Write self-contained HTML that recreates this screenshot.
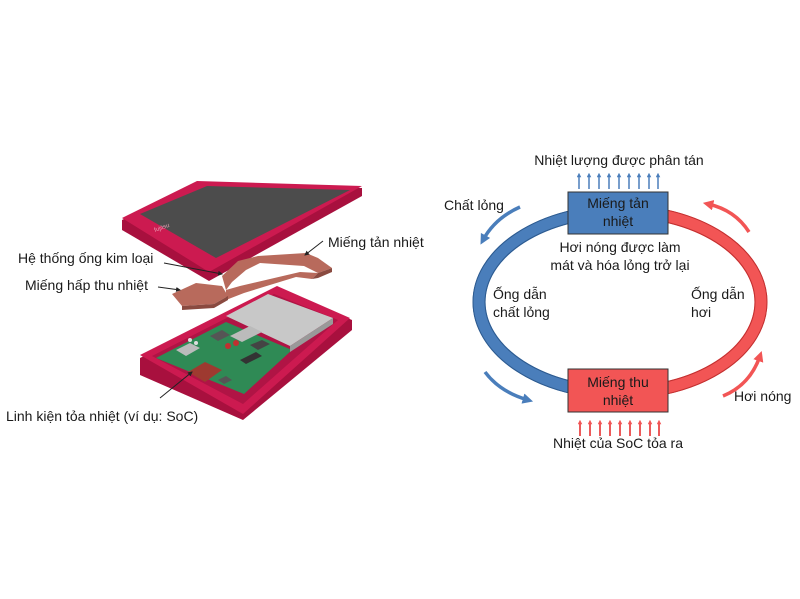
<!DOCTYPE html>
<html><head><meta charset="utf-8"><style>
html,body{margin:0;padding:0;background:#fff;}
svg{display:block;}
text{font-family:"Liberation Sans",sans-serif;font-size:14px;fill:#1a1a1a;}
</style></head><body>
<svg width="800" height="599" viewBox="0 0 800 599" xmlns="http://www.w3.org/2000/svg">
<defs>
<marker id="ab" viewBox="0 0 10 10" refX="5" refY="5" markerWidth="3" markerHeight="3" orient="auto"><path d="M0,0 L10,5 L0,10 z" fill="#4a7ebb"/></marker>
<marker id="ar" viewBox="0 0 10 10" refX="5" refY="5" markerWidth="3" markerHeight="3" orient="auto"><path d="M0,0 L10,5 L0,10 z" fill="#f25555"/></marker>
<marker id="ak" viewBox="0 0 10 10" refX="8" refY="5" markerWidth="5" markerHeight="5" orient="auto"><path d="M0,0 L10,5 L0,10 z" fill="#222"/></marker>
</defs>

<polygon points="122,220 197,183 362,188 362,196 209,281 122,230" fill="#a8103e"/>
<polygon points="122,218 197,181 362,186 209,272" fill="#cc1a50"/>
<polygon points="140,214 207,186 350,190 216,258" fill="#4c4c4c"/>
<text x="155" y="232" style="font-size:6px;fill:#e9a0b5" transform="rotate(-20 155 232)">fujitsu</text>
<polygon points="140,358 277,288 352,320 352,330 243,420 140,375" fill="#a8103e"/>
<polygon points="140,355 277,286 350,318 243,414" fill="#cc1a50"/>
<polygon points="152,356 274,294 338,320 243,404" fill="#b01445"/>
<polygon points="156,358 226,322 292,350 244,394" fill="#2f8a55"/>
<polygon points="226,316 268,294 333,318 290,346" fill="#c8c8c8"/>
<polygon points="290,346 333,318 333,324 290,352" fill="#999"/>
<polygon points="188,372 205,362 222,370 205,382" fill="#9e3a30"/>
<polygon points="176,350 190,343 200,348 186,356" fill="#bbb"/>
<polygon points="210,336 222,330 230,335 218,341" fill="#555"/>
<polygon points="230,336 250,326 262,332 242,342" fill="#bbb"/>
<polygon points="250,345 262,340 270,344 258,350" fill="#444"/>
<polygon points="240,360 256,352 262,356 246,364" fill="#333"/>
<polygon points="218,380 226,376 232,380 224,384" fill="#555"/>
<circle cx="228" cy="346" r="3" fill="#c03030"/>
<circle cx="236" cy="343" r="3" fill="#c03030"/>
<circle cx="190" cy="340" r="2" fill="#ddd"/><circle cx="196" cy="343" r="2" fill="#ddd"/>
<polygon points="222,276 238,261 258,256 306,253 318,258 332,268 318,273 304,266 260,263 246,270 232,282 226,290" fill="#b86a5c"/>
<polygon points="226,290 240,286 300,272 318,273 312,279 296,277 244,293 226,300" fill="#b86a5c"/>
<polygon points="172,294 196,283 222,286 228,296 214,304 182,306" fill="#b86a5c"/>
<polygon points="182,306 214,304 228,296 228,300 214,308 182,310" fill="#8a4a40"/>
<polygon points="312,279 318,273 332,268 332,272 318,278" fill="#8a4a40"/>
<line x1="323" y1="241" x2="305" y2="255" stroke="#222" stroke-width="1" marker-end="url(#ak)"/>
<line x1="164" y1="263" x2="222" y2="274" stroke="#222" stroke-width="1" marker-end="url(#ak)"/>
<line x1="158" y1="287" x2="180" y2="290" stroke="#222" stroke-width="1" marker-end="url(#ak)"/>
<line x1="160" y1="398" x2="192" y2="372" stroke="#222" stroke-width="1" marker-end="url(#ak)"/>
<text x="328" y="247">Miếng tản nhiệt</text>
<text x="18" y="263">Hệ thống ống kim loại</text>
<text x="25" y="290">Miếng hấp thu nhiệt</text>
<text x="6" y="421">Linh kiện tỏa nhiệt (ví dụ: SoC)</text>

<path d="M620,211 A141,91 0 0 0 620,393" fill="none" stroke="#4a7ebb" stroke-width="13"/>
<path d="M620,211 A141,91 0 0 1 620,393" fill="none" stroke="#f25555" stroke-width="13"/>
<path d="M620,205 A147,97 0 0 0 620,399" fill="none" stroke="#2d5a8e" stroke-width="1"/>
<path d="M620,217 A135,85 0 0 0 620,387" fill="none" stroke="#2d5a8e" stroke-width="1"/>
<path d="M620,205 A147,97 0 0 1 620,399" fill="none" stroke="#c03030" stroke-width="1"/>
<path d="M620,217 A135,85 0 0 1 620,387" fill="none" stroke="#c03030" stroke-width="1"/>
<rect x="568" y="192" width="100" height="42" fill="#4a7ebb" stroke="#333" stroke-width="1"/>
<rect x="568" y="369" width="100" height="43" fill="#f25555" stroke="#333" stroke-width="1"/>
<text x="618" y="208" text-anchor="middle">Miếng tản</text>
<text x="618" y="226" text-anchor="middle">nhiệt</text>
<text x="618" y="387" text-anchor="middle">Miếng thu</text>
<text x="618" y="405" text-anchor="middle">nhiệt</text>
<g stroke="#4a7ebb" stroke-width="1.5" marker-end="url(#ab)">
<line x1="579" y1="189" x2="579" y2="175"/><line x1="589" y1="189" x2="589" y2="175"/><line x1="599" y1="189" x2="599" y2="175"/><line x1="609" y1="189" x2="609" y2="175"/><line x1="619" y1="189" x2="619" y2="175"/><line x1="629" y1="189" x2="629" y2="175"/><line x1="639" y1="189" x2="639" y2="175"/><line x1="649" y1="189" x2="649" y2="175"/><line x1="658" y1="189" x2="658" y2="175"/>
</g>
<g stroke="#e52222" stroke-width="1.5" marker-end="url(#ar)">
<line x1="580" y1="436" x2="580" y2="422"/><line x1="590" y1="436" x2="590" y2="422"/><line x1="600" y1="436" x2="600" y2="422"/><line x1="610" y1="436" x2="610" y2="422"/><line x1="620" y1="436" x2="620" y2="422"/><line x1="630" y1="436" x2="630" y2="422"/><line x1="640" y1="436" x2="640" y2="422"/><line x1="650" y1="436" x2="650" y2="422"/><line x1="659" y1="436" x2="659" y2="422"/>
</g>
<path d="M520,207 Q495,218 483,240" fill="none" stroke="#4a7ebb" stroke-width="3.5" marker-end="url(#ab)"/>
<path d="M485,372 Q500,392 528,400" fill="none" stroke="#4a7ebb" stroke-width="3.5" marker-end="url(#ab)"/>
<path d="M749,232 Q735,210 708,204" fill="none" stroke="#f25555" stroke-width="3.5" marker-end="url(#ar)"/>
<path d="M723,396 Q750,385 760,356" fill="none" stroke="#f25555" stroke-width="3.5" marker-end="url(#ar)"/>
<text x="619" y="165" text-anchor="middle">Nhiệt lượng được phân tán</text>
<text x="444" y="210">Chất lỏng</text>
<text x="620" y="252" text-anchor="middle">Hơi nóng được làm</text>
<text x="620" y="270" text-anchor="middle">mát và hóa lỏng trở lại</text>
<text x="493" y="299">Ống dẫn</text>
<text x="493" y="317">chất lỏng</text>
<text x="691" y="299">Ống dẫn</text>
<text x="691" y="317">hơi</text>
<text x="734" y="401">Hơi nóng</text>
<text x="618" y="448" text-anchor="middle">Nhiệt của SoC tỏa ra</text>
</svg>
</body></html>
